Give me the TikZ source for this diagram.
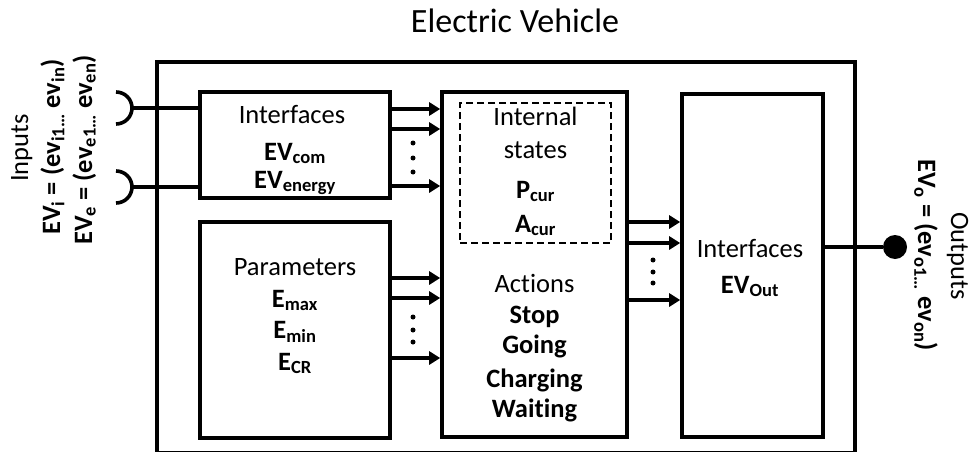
\documentclass[tikz,border=0pt]{standalone}
\usepackage{fontspec}
\setmainfont{Carlito}[Ligatures=NoCommon]
\usetikzlibrary{arrows.meta}

\tikzset{
  box/.style={draw,line width=3.6pt,inner sep=0pt},
  lw/.style={line width=3.6pt},
  arr/.style={line width=3.6pt,-{Triangle[length=11pt,width=13pt]}},
  txt/.style={anchor=base,inner sep=0pt,font=\fontsize{26.5}{30}\selectfont},
  bt/.style={anchor=base,inner sep=0pt,font=\fontsize{26.5}{30}\selectfont\bfseries}
}

\begin{document}
\begin{tikzpicture}[x=1pt,y=-1pt]
\useasboundingbox (0,0) rectangle (971,452);

%% title
\node[anchor=base,font=\fontsize{34}{40}\selectfont] (ttl) at (515,33) {Electric Vehicle};

%% boxes
\node[box,minimum width=698,minimum height=391] (ev) at (506,257.5) {};
\node[box,minimum width=190,minimum height=106] (ifc) at (295,145) {};
\node[box,minimum width=190,minimum height=216] (par) at (295,330) {};
\node[box,minimum width=185,minimum height=345] (act) at (534.5,264.5) {};
\node[draw,line width=1.5pt,dash pattern=on 7pt off 4pt,minimum width=151,minimum height=140] (st) at (535.5,173) {};
\node[box,minimum width=141,minimum height=343] (out) at (752.5,265.5) {};

%% texts
\node[txt] (ifct) at (292,123) {Interfaces};
\node[bt] (evcom) at (295,160) {EV\textsubscript{com}};
\node[bt] (evenergy) at (295,188) {EV\textsubscript{energy}};

\node[txt] (part) at (295,275) {Parameters};
\node[bt] (emax) at (295,307) {E\textsubscript{max}};
\node[bt] (emin) at (295,338) {E\textsubscript{min}};
\node[bt] (ecr) at (295,370) {E\textsubscript{CR}};

\node[txt] (stt) at (535.5,125) {Internal};
\node[txt] (stt2) at (535.5,158) {states};
\node[bt] (pcur) at (535.5,198) {P\textsubscript{cur}};
\node[bt] (acur) at (535.5,232) {A\textsubscript{cur}};

\node[txt] (actt) at (534.5,292) {Actions};
\node[bt] (stop) at (534.5,323) {Stop};
\node[bt] (going) at (534.5,353) {Going};
\node[bt] (charging) at (534.5,387) {Charging};
\node[bt] (waiting) at (534.5,417) {Waiting};

\node[txt] (outt) at (750,257) {Interfaces};
\node[bt] (evout) at (750,293) {EV\textsubscript{Out}};

%% inputs
\node[txt,rotate=90] (inp) at (28,148) {Inputs};
\node[bt,rotate=90] (evi) at (60,147) {EV\textsubscript{i} = (ev\textsubscript{i1…} ev\textsubscript{in})};
\node[bt,rotate=90] (eve) at (92,150) {EV\textsubscript{e} = (ev\textsubscript{e1…} ev\textsubscript{en})};

\coordinate (in1) at (132,108);
\coordinate (in2) at (132,187);
\draw[lw] (116,92) arc[start angle=-90,end angle=90,radius=16];
\draw[lw] (116,171) arc[start angle=-90,end angle=90,radius=16];
\draw[lw] (in1) -- (in1 -| ifc.west);
\draw[lw] (in2) -- (in2 -| ifc.west);

%% outputs
\node[txt,rotate=-90] (outp) at (951,256) {Outputs};
\node[bt,rotate=-90] (evo) at (918,255) {EV\textsubscript{o} = (ev\textsubscript{o1…} ev\textsubscript{on})};
\node[circle,fill,inner sep=0pt,minimum size=24pt] (od) at (895,247) {};
\draw[lw] (out.east |- od) -- (od);

%% arrows
\foreach \yy in {109,129,186} \draw[arr] (ifc.east |- 0,\yy) -- (act.west |- 0,\yy);
\foreach \yy in {278,298,358} \draw[arr] (par.east |- 0,\yy) -- (act.west |- 0,\yy);
\foreach \yy in {222,243,300} \draw[arr] (act.east |- 0,\yy) -- (out.west |- 0,\yy);

%% dots
\foreach \yy in {143,158,172} \fill (413,\yy) circle[radius=2.5pt];
\foreach \yy in {317,330,342} \fill (413,\yy) circle[radius=2.5pt];
\foreach \yy in {260,272,283} \fill (653,\yy) circle[radius=2.5pt];
\end{tikzpicture}
\end{document}
